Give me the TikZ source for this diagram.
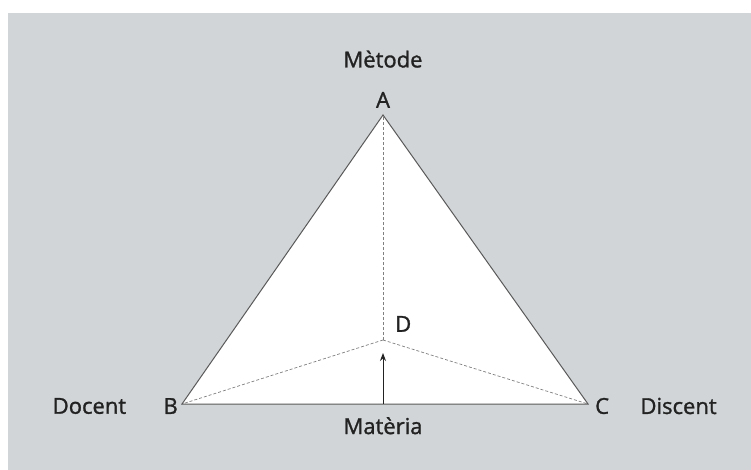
\documentclass[tikz,border=0pt]{standalone}
\usepackage{fontspec}
\setmainfont{Open Sans}
\newfontfamily\lblfont{Open Sans}[FakeBold=1.3]
\usetikzlibrary{positioning,arrows.meta}
\definecolor{paper}{HTML}{D1D5D7}
\definecolor{ink}{HTML}{222222}
\tikzset{
  >=Stealth,
}

\begin{document}
\begin{tikzpicture}[x=1pt, y=-1pt,
  lbl/.style={font=\lblfont\fontsize{22}{24}\selectfont, text=ink, inner sep=0pt},
  edge/.style={draw=black!65, line width=1pt},
  hidden/.style={draw=black!50, densely dashed, line width=0.7pt},
  arr/.style={-{Stealth[length=8pt,width=6pt]}, line width=1pt, draw=ink}
]
  \useasboundingbox (0,0) rectangle (751,470);
  \fill[paper] (8,13) rectangle (751,470);

  % vertices of the tetrahedron
  \coordinate (A) at (383,115);
  \coordinate (B) at (182,404);
  \coordinate (C) at (588,404);
  \coordinate (D) at (383,340);
  \coordinate (M) at (383,404);
  \coordinate (Dtip) at (383,353);

  \fill[white] (A) -- (B) -- (C) -- cycle;
  \draw[hidden] (D) -- (A);
  \draw[hidden] (D) -- (B);
  \draw[hidden] (D) -- (C);
  \draw[edge] (A) -- (B) -- (C) -- cycle;
  \draw[arr] (M) -- (Dtip);

  \node[lbl, above=7pt of A] (a) {A};
  \node[lbl, above=24pt of a] (metode) {Mètode};
  \node[lbl, left=4pt of B, yshift=-2pt] (b) {B};
  \node[lbl, left=37pt of b] (docent) {Docent};
  \node[lbl, right=7pt of C, yshift=-2pt] (c) {C};
  \node[lbl, right=31pt of c] (discent) {Discent};
  \node[lbl, above right=8pt and 12pt of D] (d) {D};
  \node[lbl, below=13pt of M] (materia) {Matèria};
\end{tikzpicture}
\end{document}
